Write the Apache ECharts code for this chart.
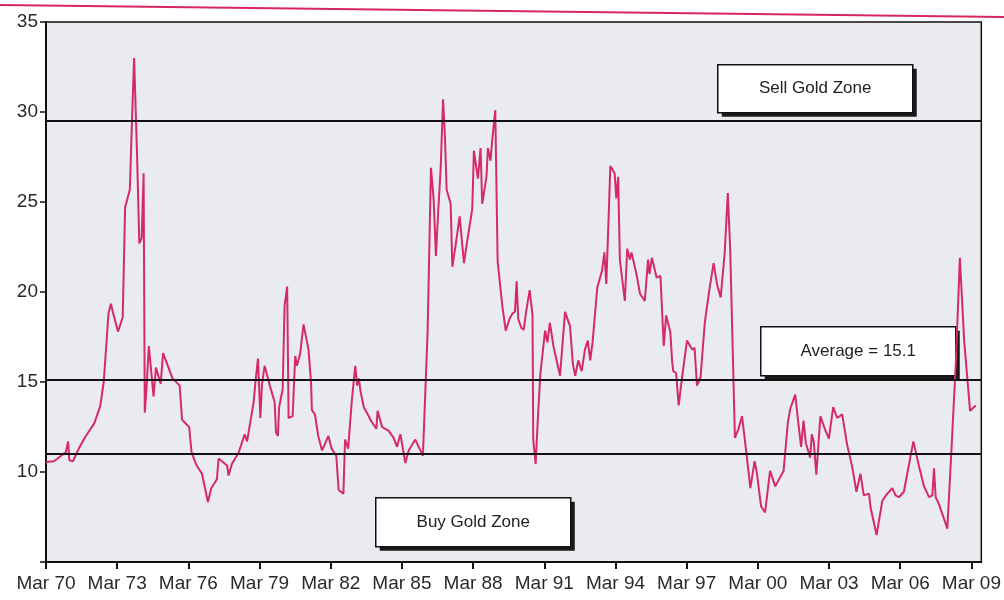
<!DOCTYPE html>
<html>
<head>
<meta charset="utf-8">
<script src="https://cdn.jsdelivr.net/npm/echarts@6/dist/echarts.min.js"></script>
<style>
  html, body { margin: 0; padding: 0; background: #ffffff; }
  #chart { width: 1004px; height: 600px; }
</style>
</head>
<body>
<div id="chart"></div>
<script>
// Dates as decimal years, values = ratio
const years = [
  1970.17, 1970.5, 1971.0, 1971.1, 1971.15, 1971.3, 1971.55, 1971.8, 1972.2, 1972.45,
  1972.6, 1972.8, 1972.9, 1973.0, 1973.2, 1973.4, 1973.5, 1973.7, 1973.8, 1973.88,
  1973.93, 1974.0, 1974.1, 1974.2, 1974.28, 1974.33, 1974.4, 1974.5, 1974.7, 1974.8,
  1975.0, 1975.1, 1975.5, 1975.8, 1975.9, 1976.2, 1976.3, 1976.5, 1976.74, 1976.99,
  1977.13, 1977.37, 1977.44, 1977.8, 1977.86, 1978.0, 1978.29, 1978.54, 1978.64, 1978.78,
  1978.92, 1979.0, 1979.1, 1979.2, 1979.27, 1979.38, 1979.62, 1979.8, 1979.86, 1979.94,
  1979.99, 1980.14, 1980.22, 1980.33, 1980.39, 1980.56, 1980.64, 1980.67, 1980.74, 1980.88,
  1981.02, 1981.23, 1981.34, 1981.37, 1981.5, 1981.64, 1981.8, 1982.07, 1982.2, 1982.4,
  1982.5, 1982.7, 1982.77, 1982.9, 1983.05, 1983.2, 1983.28, 1983.35, 1983.42, 1983.56,
  1983.77, 1983.86, 1984.09, 1984.14, 1984.33, 1984.6, 1984.82, 1984.96, 1985.1, 1985.31,
  1985.45, 1985.73, 1986.05, 1986.25, 1986.39, 1986.5, 1986.6, 1986.7, 1986.8, 1986.9,
  1986.98, 1987.05, 1987.22, 1987.29, 1987.43, 1987.6, 1987.78, 1987.92, 1988.13, 1988.2,
  1988.37, 1988.48, 1988.55, 1988.73, 1988.79, 1988.9, 1988.97, 1989.1, 1989.2, 1989.4,
  1989.54, 1989.7, 1989.82, 1989.93, 1990.0, 1990.07, 1990.2, 1990.3, 1990.4, 1990.55,
  1990.67, 1990.7, 1990.8, 1990.9, 1991.0, 1991.2, 1991.3, 1991.4, 1991.55, 1991.83,
  1992.04, 1992.25, 1992.37, 1992.47, 1992.6, 1992.74, 1992.88, 1993.0, 1993.1, 1993.2,
  1993.4, 1993.6, 1993.7, 1993.78, 1993.95, 1994.13, 1994.2, 1994.28, 1994.35, 1994.56,
  1994.66, 1994.77, 1994.84, 1995.05, 1995.2, 1995.4, 1995.54, 1995.6, 1995.7, 1995.9,
  1996.06, 1996.2, 1996.3, 1996.48, 1996.55, 1996.6, 1996.72, 1996.83, 1996.97, 1997.18,
  1997.4, 1997.5, 1997.6, 1997.75, 1997.93, 1998.12, 1998.2, 1998.3, 1998.45, 1998.6,
  1998.77, 1998.9, 1999.0, 1999.2, 1999.35, 1999.5, 1999.7, 1999.85, 2000.03, 2000.13,
  2000.3, 2000.47, 2000.68, 2000.9, 2001.1, 2001.25, 2001.43, 2001.53, 2001.74, 2001.9,
  2001.99, 2002.09, 2002.19, 2002.37, 2002.44, 2002.52, 2002.63, 2002.8, 2003.0, 2003.16,
  2003.34, 2003.51, 2003.72, 2003.93, 2004.14, 2004.32, 2004.49, 2004.63, 2004.85, 2004.92,
  2005.17, 2005.41, 2005.62, 2005.83, 2005.97, 2006.11, 2006.32, 2006.44, 2006.72, 2006.96,
  2007.17, 2007.38, 2007.52, 2007.59, 2007.66, 2007.8, 2008.01, 2008.15, 2008.32, 2008.51,
  2008.68, 2008.86, 2009.11, 2009.35
];
const ratio = [
  10.55, 10.6, 11.1, 11.7, 10.65, 10.6, 11.3, 11.9, 12.7, 13.65,
  15.0, 18.8, 19.35, 18.8, 17.8, 18.6, 24.7, 25.7, 29.9, 33.0,
  33.0, 27.8, 22.7, 23.0, 26.6, 13.3, 14.6, 17.0, 14.2, 15.8,
  14.9, 16.6, 15.2, 14.8, 12.9, 12.5, 11.1, 10.4, 9.9, 8.33,
  9.1, 9.6, 10.75, 10.36, 9.8, 10.45, 11.1, 12.1, 11.7, 12.8,
  13.9, 15.1, 16.3, 13.0, 14.9, 15.9, 14.7, 13.9, 12.2, 12.0,
  13.6, 14.6, 19.2, 20.3, 13.0, 13.1, 13.2, 16.45, 15.9, 16.6,
  18.2, 16.8, 14.9, 13.45, 13.2, 12.0, 11.2, 12.0, 11.3, 10.9,
  9.0, 8.8, 11.8, 11.3, 13.9, 15.9, 14.8, 15.2, 14.5, 13.6,
  13.1, 12.85, 12.4, 13.4, 12.5, 12.3, 11.9, 11.4, 12.1, 10.5,
  11.2, 11.8, 10.9, 17.85, 26.9, 25.2, 22.0, 24.6, 26.9, 30.7,
  28.6, 25.7, 24.9, 21.4, 22.6, 24.2, 21.6, 22.85, 24.6, 27.85,
  26.3, 28.0, 24.9, 26.4, 28.0, 27.3, 28.4, 30.1, 21.7, 19.2,
  17.85, 18.5, 18.8, 18.9, 20.6, 18.5, 18.0, 17.9, 18.9, 20.1,
  18.7, 11.8, 10.45, 13.1, 15.45, 17.85, 17.2, 18.3, 17.0, 15.35,
  18.9, 18.1, 16.0, 15.35, 16.2, 15.6, 16.8, 17.3, 16.2, 17.2,
  20.25, 21.2, 22.2, 20.45, 27.0, 26.6, 25.2, 26.4, 21.8, 19.5,
  22.4, 21.8, 22.2, 21.0, 19.9, 19.5, 21.8, 21.0, 21.9, 20.8,
  20.9, 17.0, 18.7, 17.75, 16.2, 15.6, 15.5, 13.7, 15.25, 17.3,
  16.8, 16.9, 14.8, 15.25, 18.3, 20.1, 20.1, 21.6, 20.4, 19.7,
  22.2, 25.5, 22.4, 11.9, 12.4, 13.1, 10.85, 9.1, 10.6, 9.9,
  8.1, 7.75, 10.06, 9.2, 9.7, 10.06, 12.75, 13.5, 14.3, 12.4,
  11.4, 12.85, 11.6, 10.8, 12.1, 11.7, 9.85, 13.1, 12.35, 11.85,
  13.6, 13.0, 13.2, 11.5, 10.3, 8.9, 9.9, 8.7, 8.8, 8.0,
  6.5, 8.4, 8.8, 9.1, 8.7, 8.6, 8.9, 9.75, 11.7, 10.3,
  9.2, 8.6, 8.7, 10.2, 8.6, 8.2, 7.4, 6.85, 11.1, 16.1,
  21.9, 17.3, 13.4, 13.7
];
const tickLabels = ['Mar 70','Mar 73','Mar 76','Mar 79','Mar 82','Mar 85','Mar 88',
                    'Mar 91','Mar 94','Mar 97','Mar 00','Mar 03','Mar 06','Mar 09'];
const startYear = 1970 + 2 / 12;      // March 1970
const sellLevel = 29.5;
const averageLevel = 15.1;
const buyLevel = 11.0;
const boxTexts = ['Sell Gold Zone', 'Average = 15.1', 'Buy Gold Zone'];

const seriesData = years.map((y, i) => [(y - startYear) * 12, ratio[i]]);

const FONT = '"Liberation Sans", Arial, sans-serif';

function labelBox(x, y, w, h, text) {
  return {
    type: 'group', left: x, top: y,
    children: [
      { type: 'rect', shape: { x: 4, y: 4, width: w, height: h },
        style: { fill: '#1a1a1a' } },
      { type: 'rect', shape: { x: 0, y: 0, width: w, height: h },
        style: { fill: '#ffffff', stroke: '#111111', lineWidth: 1.5 } },
      { type: 'text', x: w / 2, y: h / 2,
        style: { text: text, fill: '#222222', font: '17px ' + FONT,
                 align: 'center', verticalAlign: 'middle' } }
    ]
  };
}

const chart = echarts.init(document.getElementById('chart'), null, { renderer: 'canvas' });
chart.setOption({
  animation: false,
  backgroundColor: '#ffffff',
  grid: {
    left: 46, right: 12, top: 22, bottom: 38,
    show: true, backgroundColor: '#eaebf0',
    borderColor: '#111111', borderWidth: 1.5
  },
  xAxis: {
    type: 'value', min: 0, max: 473, interval: 36,
    axisLine: { show: true, lineStyle: { color: '#111111', width: 2 } },
    axisTick: { show: true, length: 7, lineStyle: { color: '#111111', width: 2 } },
    axisLabel: {
      margin: 12, color: '#2a2a2a', fontSize: 19, fontFamily: FONT,
      showMaxLabel: false,
      formatter: v => (v % 36 === 0 ? (tickLabels[v / 36] || '') : '')
    },
    splitLine: { show: false }
  },
  yAxis: {
    type: 'value', min: 5, max: 35, interval: 5,
    axisLine: { show: true, lineStyle: { color: '#111111', width: 2 } },
    axisTick: { show: true, length: 6, lineStyle: { color: '#111111', width: 1.5 } },
    axisLabel: {
      margin: 8, color: '#2a2a2a', fontSize: 19, fontFamily: FONT,
      formatter: v => (v === 5 ? '' : String(v))
    },
    splitLine: { show: false }
  },
  series: [{
    type: 'line',
    data: seriesData,
    showSymbol: false,
    lineStyle: { color: '#d42a6c', width: 2 },
    markLine: {
      silent: true, symbol: 'none',
      label: { show: false },
      lineStyle: { color: '#111111', width: 2, type: 'solid' },
      data: [{ yAxis: sellLevel }, { yAxis: averageLevel }, { yAxis: buyLevel }]
    },
    z: 3
  }],
  graphic: [
    { type: 'line', shape: { x1: 0, y1: 5, x2: 1004, y2: 17 },
      style: { stroke: '#d8265c', lineWidth: 2 } },
    labelBox(717, 64, 195, 48, boxTexts[0]),
    labelBox(760, 326, 195, 49, boxTexts[1]),
    labelBox(375, 497, 195, 49, boxTexts[2])
  ]
});
</script>
</body>
</html>
